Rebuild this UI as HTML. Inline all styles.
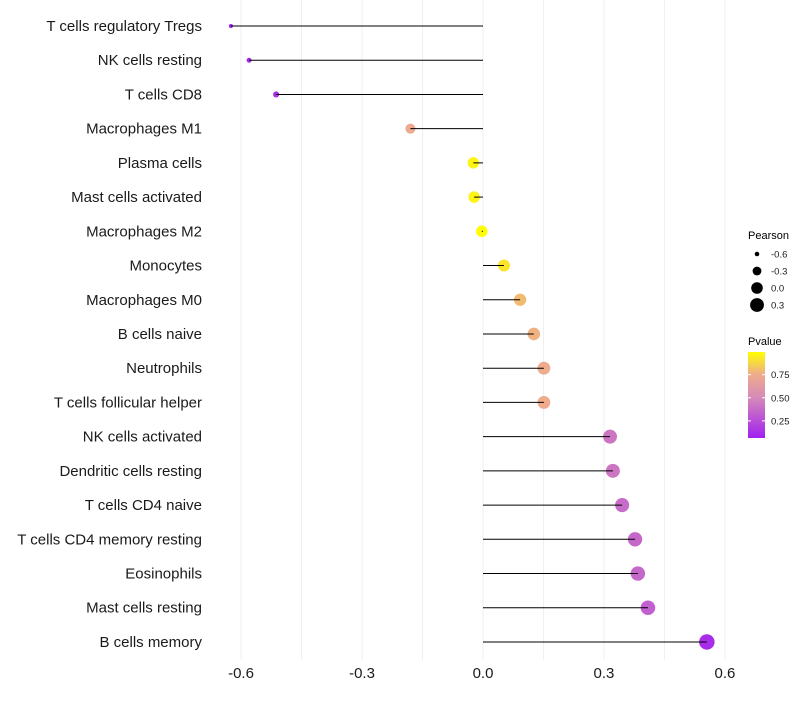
<!DOCTYPE html>
<html><head><meta charset="utf-8"><style>
body{margin:0;background:#fff;font-family:"Liberation Sans",sans-serif}
</style></head><body>
<svg id="chart" width="800" height="700" xmlns="http://www.w3.org/2000/svg" font-family="Liberation Sans, sans-serif">
<defs><linearGradient id="pg" x1="0" y1="1" x2="0" y2="0">
<stop offset="0" stop-color="#a020f0"/><stop offset="0.47" stop-color="#d68ab8"/><stop offset="0.74" stop-color="#eeac8c"/><stop offset="1" stop-color="#ffff00"/>
</linearGradient></defs>
<g id="grid"></g><g id="points"></g><g id="stems"></g><g id="labels"></g><g id="xticks"></g>
<g>
<text x="748" y="239" font-size="11">Pearson</text>
<g id="sizeLegend"></g>
<text x="748" y="345" font-size="11">Pvalue</text>
<rect x="748" y="352" width="17" height="86" fill="url(#pg)"/>
<g id="colorTicks"></g>
</g>
</svg>
<script>
const categories=["T cells regulatory  Tregs","NK cells resting","T cells CD8","Macrophages M1","Plasma cells","Mast cells activated","Macrophages M2","Monocytes","Macrophages M0","B cells naive","Neutrophils","T cells follicular helper","NK cells activated","Dendritic cells resting","T cells CD4 naive","T cells CD4 memory resting","Eosinophils","Mast cells resting","B cells memory"];
const pearson=[-0.625,-0.58,-0.513,-0.18,-0.024,-0.022,-0.003,0.052,0.092,0.126,0.151,0.151,0.315,0.322,0.345,0.377,0.384,0.409,0.555];
const pvalues=[0.07,0.1,0.13,0.74,0.96,0.96,0.99,0.92,0.8,0.77,0.75,0.75,0.42,0.42,0.38,0.36,0.36,0.33,0.12];
const xTicks=[-0.6,-0.3,0.0,0.3,0.6];
const xTickLabels=["-0.6","-0.3","0.0","0.3","0.6"];
const sizeLegendVals=[-0.6,-0.3,0.0,0.3];
const sizeLegendLabels=["-0.6","-0.3","0.0","0.3"];
const colorTicks=[0.25,0.5,0.75];
const colorTickLabels=["0.25","0.50","0.75"];

const NS="http://www.w3.org/2000/svg";
const x=v=>483+v*403.3;
const y=i=>26+i*34.22;
const pMin=0.065,pMax=0.995;
const rScale=v=>{const t=(v+0.625)/1.18;return Math.sqrt(4+56*Math.max(0,t));};
const stops=[[0,[160,32,240]],[0.47,[214,138,184]],[0.74,[238,172,140]],[1,[255,255,0]]];
function col(p){let t=(p-pMin)/(pMax-pMin);t=Math.max(0,Math.min(1,t));
 for(let k=1;k<stops.length;k++){if(t<=stops[k][0]){const a=stops[k-1],b=stops[k];const f=(t-a[0])/(b[0]-a[0]);
 return "rgb("+a[1].map((c,j)=>Math.round(c+(b[1][j]-c)*f)).join(",")+")";}} return "rgb(255,255,0)";}
function mk(tag,attrs,parent,text){const e=document.createElementNS(NS,tag);for(const k in attrs)e.setAttribute(k,attrs[k]);if(text!==undefined)e.textContent=text;document.getElementById(parent).appendChild(e);return e;}

const gridVals=[-0.6,-0.45,-0.3,-0.15,0,0.15,0.3,0.45,0.6];
gridVals.forEach(g=>{const e=mk("line",{x1:x(g),x2:x(g),y1:0,y2:660,stroke:"#efefef","stroke-width":1},"grid");

});

categories.forEach((c,i)=>{
 const pt=mk("circle",{cx:x(pearson[i]),cy:y(i),r:rScale(pearson[i]),fill:col(pvalues[i])},"points");
 
 
 const ln=mk("line",{x1:x(0),x2:x(pearson[i]),y1:y(i),y2:y(i),stroke:"#000","stroke-width":1},"stems");
 
 
 const tl=mk("text",{x:202,y:y(i)+5,"text-anchor":"end","font-size":15,fill:"#1a1a1a","xml:space":"preserve"},"labels",c);
 
 
});
xTicks.forEach((t,i)=>{const e=mk("text",{x:x(t),y:678,"text-anchor":"middle","font-size":15,fill:"#1a1a1a"},"xticks",xTickLabels[i]);

});
sizeLegendVals.forEach((v,i)=>{const cy=254+i*17;
 const c=mk("circle",{cx:757,cy:cy,r:rScale(v),fill:"#000"},"sizeLegend");
 
 
 const t=mk("text",{x:771,y:cy+3.5,"font-size":9.5,fill:"#1a1a1a"},"sizeLegend",sizeLegendLabels[i]);
 
 });
colorTicks.forEach((v,i)=>{const cy=352+86*(pMax-v)/(pMax-pMin);
 mk("line",{x1:748,x2:751,y1:cy,y2:cy,stroke:"#fff"},"colorTicks");
 mk("line",{x1:762,x2:765,y1:cy,y2:cy,stroke:"#fff"},"colorTicks");
 const t=mk("text",{x:771,y:cy+3.5,"font-size":9.5,fill:"#1a1a1a"},"colorTicks",colorTickLabels[i]);
 
 });
</script>
</body></html>
